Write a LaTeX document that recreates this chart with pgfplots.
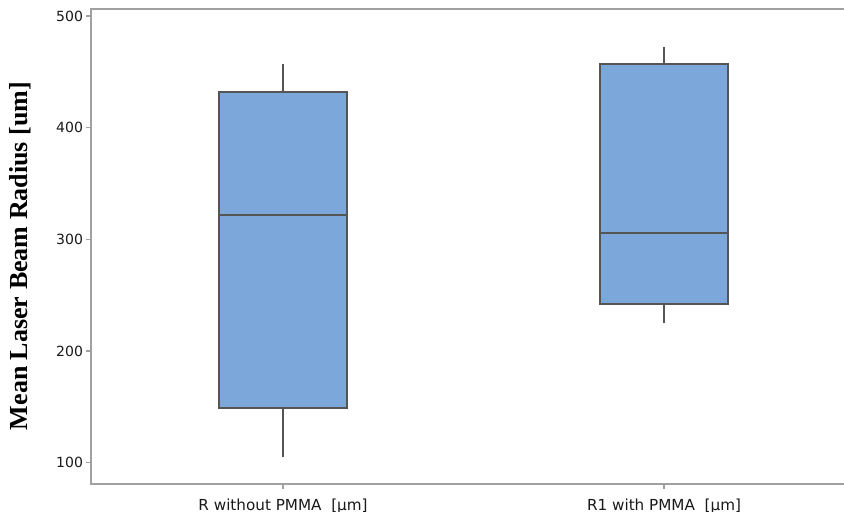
\documentclass[border=0pt]{standalone}
\usepackage{pgfplots}
\pgfplotsset{compat=1.18}
\usepackage{fontspec}
\setmainfont{DejaVu Sans}
\newfontfamily\labelfont{Liberation Serif}
\definecolor{boxfill}{HTML}{7BA7DA}
\definecolor{boxedge}{HTML}{555555}
\definecolor{axisgray}{HTML}{A0A0A0}
\begin{document}
\begin{tikzpicture}
\begin{axis}[
  scale only axis, width=377pt, height=237.5pt,
  xmin=-0.504, xmax=1.475, ymin=81, ymax=506.3,
  xtick={0,1},
  xticklabels={R without PMMA\ \ [µm], R1 with PMMA\ \ [µm]},
  ytick={100,200,300,400,500},
  xtick pos=bottom, ytick pos=left,
  axis line style={color=axisgray, line width=0.8pt},
  tick style={color=axisgray, line width=0.6pt},
  tick align=outside, major tick length=2.5pt,
  /pgf/number format/assume math mode=true,
  tick label style={font=\fontsize{7}{8}\selectfont, text=black!90},
  xticklabel style={font=\fontsize{7.6}{9}\selectfont, yshift=-1.5pt},
  yticklabel style={xshift=2pt},
  ylabel={Mean Laser Beam Radius [um]},
  ylabel style={font=\labelfont\bfseries\fontsize{13}{15}\selectfont,
    at={(rel axis cs:0,0.48)}, anchor=center, yshift=35.5pt},
]
% box 1: R without PMMA
\addplot[fill=boxfill, draw=boxedge, line width=0.9pt, mark=none] coordinates {(-0.168,149) (0.168,149) (0.168,432) (-0.168,432)} -- cycle;
\addplot[draw=boxedge, line width=0.9pt, mark=none] coordinates {(-0.168,322) (0.168,322)};
\addplot[draw=boxedge, line width=0.9pt, mark=none] coordinates {(0,432) (0,457)};
\addplot[draw=boxedge, line width=0.9pt, mark=none] coordinates {(0,105) (0,149)};
% box 2: R1 with PMMA
\addplot[fill=boxfill, draw=boxedge, line width=0.9pt, mark=none] coordinates {(0.832,242) (1.168,242) (1.168,457) (0.832,457)} -- cycle;
\addplot[draw=boxedge, line width=0.9pt, mark=none] coordinates {(0.832,306) (1.168,306)};
\addplot[draw=boxedge, line width=0.9pt, mark=none] coordinates {(1,457) (1,472.5)};
\addplot[draw=boxedge, line width=0.9pt, mark=none] coordinates {(1,225) (1,242)};
\end{axis}
\pgfresetboundingbox
\path ([xshift=-45.5pt,yshift=-14pt]current axis.south west) rectangle ([xshift=-0.5pt,yshift=4.5pt]current axis.north east);
\end{tikzpicture}
\end{document}
